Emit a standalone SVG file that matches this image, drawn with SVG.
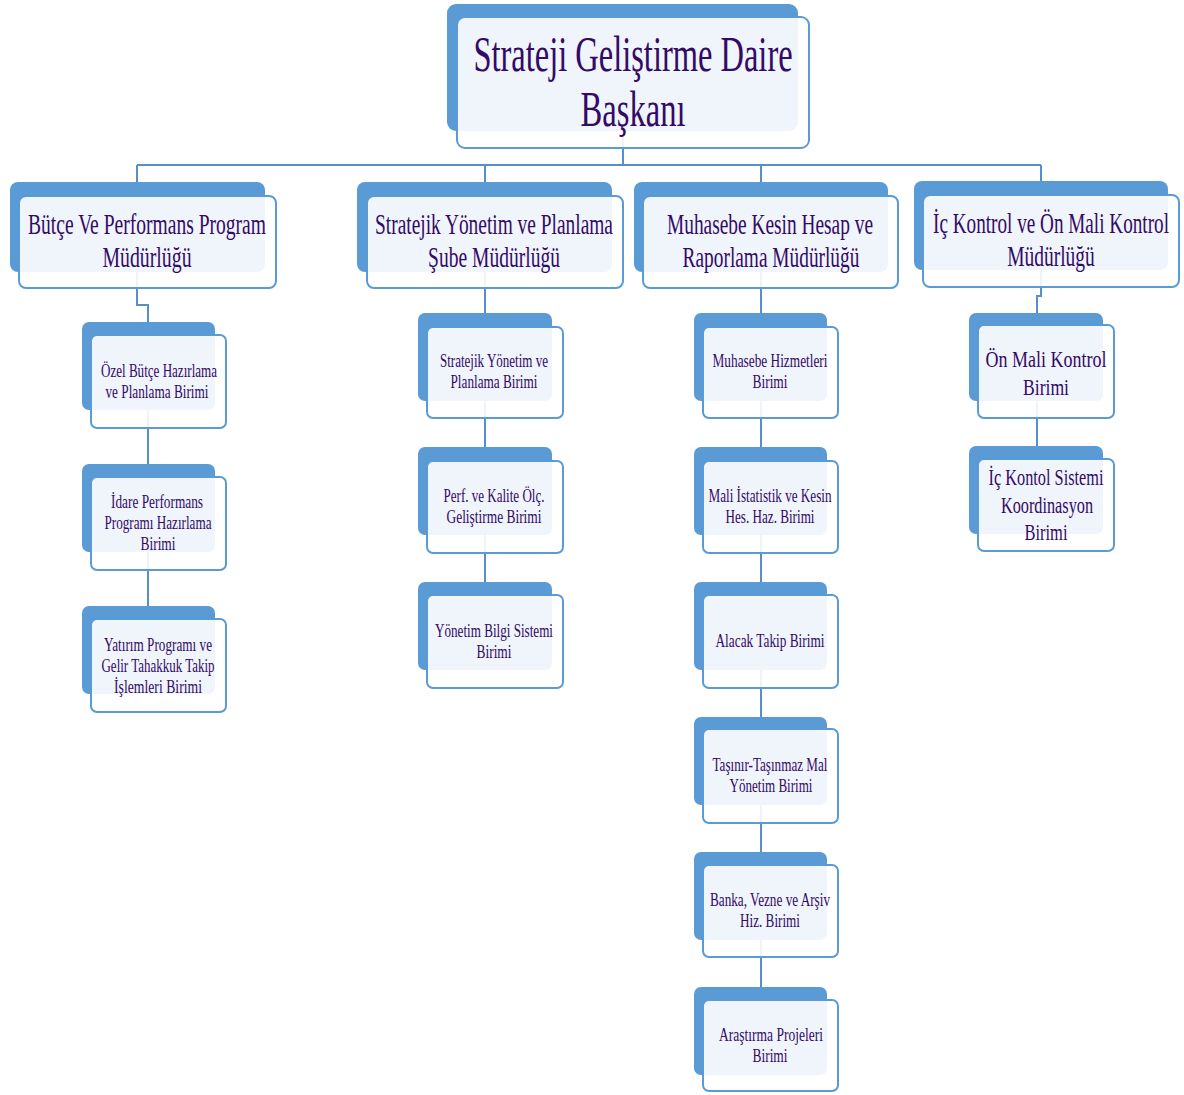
<svg xmlns="http://www.w3.org/2000/svg" width="1184" height="1095" viewBox="0 0 1184 1095">
<style>
.bg{fill:#ffffff}
.back{fill:#5b9bd5}
.front{fill:#ffffff;fill-opacity:0.9;stroke:#5b9bd5;stroke-width:2}
.conn{fill:none;stroke:#5590cc;stroke-width:2}
text{font-family:"Liberation Serif","Times New Roman",serif;fill:#330a66;text-anchor:middle}
.t0{font-size:50px}
.t1{font-size:30px}
.t2{font-size:18.5px}
.t3{font-size:24px}
</style>
<rect class="bg" x="0" y="0" width="1184" height="1095"/>
<g id="connectors">
<path class="conn" d="M623 131 V165 M137 165 H1041 M137 165 V183 M485 165 V183 M761 165 V183 M1041 165 V183"/>
<path class="conn" d="M137 272 V305 H148 V322 M148 410 V464 M148 552 V606"/>
<path class="conn" d="M485 272 V313 M485 401 V447 M485 535 V582"/>
<path class="conn" d="M761 272 V313 M761 401 V447 M761 535 V582 M761 670 V717 M761 805 V852 M761 940 V987"/>
<path class="conn" d="M1041 270 V296 H1037 V313 M1037 401 V446"/>
</g>
<g id="n0">
<rect class="back" x="447" y="4" width="351" height="127" rx="9"/>
<rect class="front" x="457" y="17" width="352" height="131" rx="8"/>
<text class="t0" transform="translate(633,71) scale(0.7,1)" x="0" y="0" textLength="456" lengthAdjust="spacingAndGlyphs">Strateji Geliştirme Daire</text>
<text class="t0" transform="translate(633,126) scale(0.7,1)" x="0" y="0" textLength="150" lengthAdjust="spacingAndGlyphs">Başkanı</text>
</g>
<g id="n1">
<rect class="back" x="10" y="182" width="255" height="90" rx="8"/>
<rect class="front" x="19" y="196" width="257" height="92" rx="7"/>
<text class="t1" transform="translate(147,234) scale(0.65,1)" x="0" y="0" textLength="366" lengthAdjust="spacingAndGlyphs">Bütçe Ve Performans Program</text>
<text class="t1" transform="translate(147,267) scale(0.65,1)" x="0" y="0" textLength="137" lengthAdjust="spacingAndGlyphs">Müdürlüğü</text>
</g>
<g id="n2">
<rect class="back" x="357" y="182" width="255" height="90" rx="8"/>
<rect class="front" x="367" y="196" width="256" height="92" rx="7"/>
<text class="t1" transform="translate(494,234) scale(0.65,1)" x="0" y="0" textLength="366" lengthAdjust="spacingAndGlyphs">Stratejik Yönetim ve Planlama</text>
<text class="t1" transform="translate(494,267) scale(0.65,1)" x="0" y="0" textLength="203" lengthAdjust="spacingAndGlyphs">Şube Müdürlüğü</text>
</g>
<g id="n3">
<rect class="back" x="634" y="182" width="254" height="90" rx="8"/>
<rect class="front" x="643" y="196" width="255" height="92" rx="7"/>
<text class="t1" transform="translate(770,234) scale(0.65,1)" x="0" y="0" textLength="317" lengthAdjust="spacingAndGlyphs">Muhasebe Kesin Hesap ve</text>
<text class="t1" transform="translate(771,267) scale(0.65,1)" x="0" y="0" textLength="272" lengthAdjust="spacingAndGlyphs">Raporlama Müdürlüğü</text>
</g>
<g id="n4">
<rect class="back" x="914" y="181" width="254" height="89" rx="8"/>
<rect class="front" x="923" y="195" width="256" height="92" rx="7"/>
<text class="t1" transform="translate(1051,233) scale(0.65,1)" x="0" y="0" textLength="363" lengthAdjust="spacingAndGlyphs">İç Kontrol ve Ön Mali Kontrol</text>
<text class="t1" transform="translate(1051,266) scale(0.65,1)" x="0" y="0" textLength="135" lengthAdjust="spacingAndGlyphs">Müdürlüğü</text>
</g>
<g id="n1a">
<rect class="back" x="82" y="322" width="133" height="88" rx="7"/>
<rect class="front" x="91" y="335" width="135" height="93" rx="6"/>
<text class="t2" x="159" y="377" textLength="116" lengthAdjust="spacingAndGlyphs">Özel Bütçe Hazırlama</text>
<text class="t2" x="157" y="398" textLength="103" lengthAdjust="spacingAndGlyphs">ve Planlama Birimi</text>
</g>
<g id="n1b">
<rect class="back" x="82" y="464" width="133" height="88" rx="7"/>
<rect class="front" x="91" y="477" width="135" height="93" rx="6"/>
<text class="t2" x="157" y="508" textLength="92" lengthAdjust="spacingAndGlyphs">İdare Performans</text>
<text class="t2" x="158" y="529" textLength="107" lengthAdjust="spacingAndGlyphs">Programı Hazırlama</text>
<text class="t2" x="158" y="550" textLength="35" lengthAdjust="spacingAndGlyphs">Birimi</text>
</g>
<g id="n1c">
<rect class="back" x="82" y="606" width="133" height="88" rx="7"/>
<rect class="front" x="91" y="619" width="135" height="93" rx="6"/>
<text class="t2" x="158" y="651" textLength="108" lengthAdjust="spacingAndGlyphs">Yatırım Programı ve</text>
<text class="t2" x="158" y="672" textLength="113" lengthAdjust="spacingAndGlyphs">Gelir Tahakkuk  Takip</text>
<text class="t2" x="158" y="693" textLength="88" lengthAdjust="spacingAndGlyphs">İşlemleri Birimi</text>
</g>
<g id="n2a">
<rect class="back" x="418" y="313" width="134" height="88" rx="7"/>
<rect class="front" x="427" y="327" width="136" height="91" rx="6"/>
<text class="t2" x="494" y="367" textLength="108" lengthAdjust="spacingAndGlyphs">Stratejik Yönetim ve</text>
<text class="t2" x="494" y="388" textLength="87" lengthAdjust="spacingAndGlyphs">Planlama Birimi</text>
</g>
<g id="n2b">
<rect class="back" x="418" y="447" width="134" height="88" rx="7"/>
<rect class="front" x="427" y="461" width="136" height="92" rx="6"/>
<text class="t2" x="494" y="502" textLength="101" lengthAdjust="spacingAndGlyphs">Perf. ve Kalite Ölç.</text>
<text class="t2" x="494" y="523" textLength="95" lengthAdjust="spacingAndGlyphs">Geliştirme Birimi</text>
</g>
<g id="n2c">
<rect class="back" x="418" y="582" width="134" height="88" rx="7"/>
<rect class="front" x="427" y="595" width="136" height="93" rx="6"/>
<text class="t2" x="494" y="637" textLength="118" lengthAdjust="spacingAndGlyphs">Yönetim Bilgi Sistemi</text>
<text class="t2" x="494" y="658" textLength="35" lengthAdjust="spacingAndGlyphs">Birimi</text>
</g>
<g id="n3a">
<rect class="back" x="694" y="313" width="133" height="88" rx="7"/>
<rect class="front" x="703" y="327" width="135" height="91" rx="6"/>
<text class="t2" x="770" y="367" textLength="115" lengthAdjust="spacingAndGlyphs">Muhasebe Hizmetleri</text>
<text class="t2" x="770" y="388" textLength="35" lengthAdjust="spacingAndGlyphs">Birimi</text>
</g>
<g id="n3b">
<rect class="back" x="694" y="447" width="133" height="88" rx="7"/>
<rect class="front" x="703" y="461" width="135" height="92" rx="6"/>
<text class="t2" x="770" y="502" textLength="123" lengthAdjust="spacingAndGlyphs">Mali İstatistik ve Kesin</text>
<text class="t2" x="770" y="523" textLength="89" lengthAdjust="spacingAndGlyphs">Hes. Haz. Birimi</text>
</g>
<g id="n3c">
<rect class="back" x="694" y="582" width="133" height="88" rx="7"/>
<rect class="front" x="703" y="595" width="135" height="93" rx="6"/>
<text class="t2" x="770" y="647" textLength="109" lengthAdjust="spacingAndGlyphs">Alacak Takip Birimi</text>
</g>
<g id="n3d">
<rect class="back" x="694" y="717" width="133" height="88" rx="7"/>
<rect class="front" x="703" y="729" width="135" height="94" rx="6"/>
<text class="t2" x="770" y="771" textLength="115" lengthAdjust="spacingAndGlyphs">Taşınır-Taşınmaz  Mal</text>
<text class="t2" x="771" y="792" textLength="83" lengthAdjust="spacingAndGlyphs">Yönetim Birimi</text>
</g>
<g id="n3e">
<rect class="back" x="694" y="852" width="133" height="88" rx="7"/>
<rect class="front" x="703" y="865" width="135" height="92" rx="6"/>
<text class="t2" x="770" y="906" textLength="120" lengthAdjust="spacingAndGlyphs">Banka,  Vezne ve Arşiv</text>
<text class="t2" x="770" y="927" textLength="60" lengthAdjust="spacingAndGlyphs">Hiz. Birimi</text>
</g>
<g id="n3f">
<rect class="back" x="694" y="987" width="133" height="88" rx="7"/>
<rect class="front" x="703" y="1000" width="135" height="91" rx="6"/>
<text class="t2" x="771" y="1041" textLength="104" lengthAdjust="spacingAndGlyphs">Araştırma Projeleri</text>
<text class="t2" x="770" y="1062" textLength="35" lengthAdjust="spacingAndGlyphs">Birimi</text>
</g>
<g id="n4a">
<rect class="back" x="969" y="313" width="134" height="88" rx="7"/>
<rect class="front" x="978" y="325" width="136" height="93" rx="6"/>
<text class="t3" x="1046" y="367" textLength="121" lengthAdjust="spacingAndGlyphs">Ön Mali Kontrol</text>
<text class="t3" x="1046" y="395" textLength="46" lengthAdjust="spacingAndGlyphs">Birimi</text>
</g>
<g id="n4b">
<rect class="back" x="969" y="446" width="134" height="88" rx="7"/>
<rect class="front" x="978" y="459" width="136" height="92" rx="6"/>
<text class="t3" x="1046" y="485" textLength="115" lengthAdjust="spacingAndGlyphs">İç Kontol Sistemi</text>
<text class="t3" x="1047" y="513" textLength="92" lengthAdjust="spacingAndGlyphs">Koordinasyon</text>
<text class="t3" x="1046" y="540" textLength="43" lengthAdjust="spacingAndGlyphs">Birimi</text>
</g>
</svg>
